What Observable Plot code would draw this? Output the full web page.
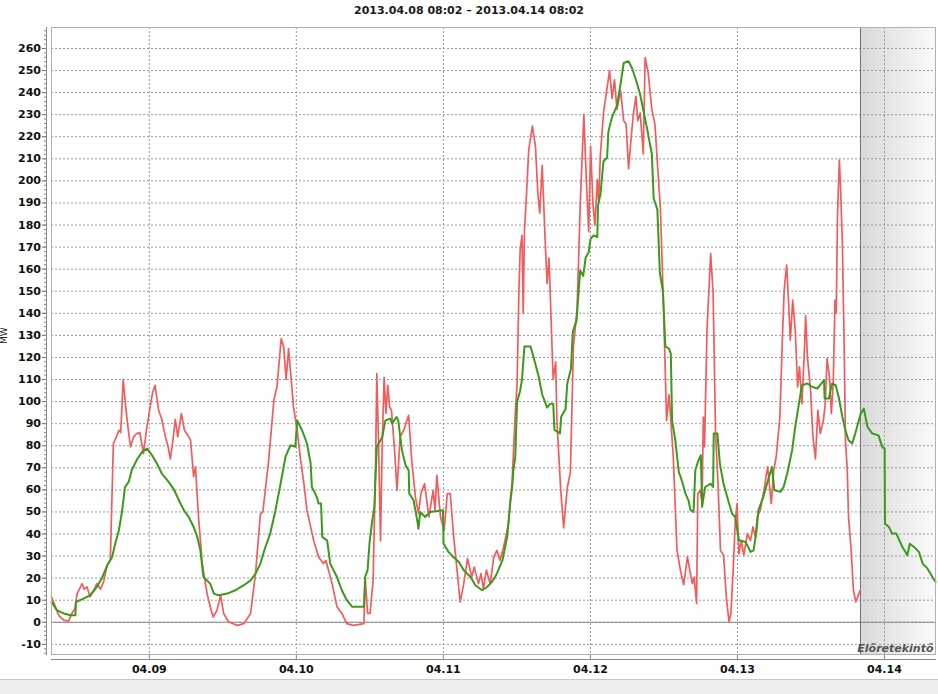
<!DOCTYPE html>
<html><head><meta charset="utf-8">
<script src="https://cdn.jsdelivr.net/npm/d3@7"></script>
<script src="https://cdn.jsdelivr.net/npm/@observablehq/plot@0.6"></script>
<style>
body{margin:0;background:#fff;font-family:"DejaVu Sans",sans-serif;}
#title{height:22px;line-height:22px;text-align:center;font-size:11px;font-weight:bold;color:#1a1a1a;}
#chart svg{display:block;}
#band{height:14px;background:#eeeeee;border-top:1px solid #c8c8c8;}
</style></head><body>
<div id="title">2013.04.08 08:02 – 2013.04.14 08:02</div>
<div id="chart"></div>
<div id="band"></div>
<script>
// Hours after 2013.04.08 08:02 (UTC-based clock) and MW values
const redHours = [0,0.5,1.2,2.0,2.8,3.3,3.8,4.2,5.0,5.3,5.8,6.3,6.9,7.4,8.0,8.5,9.1,9.6,10.1,10.6,11.0,11.3,11.7,12.1,12.5,12.9,13.4,13.9,14.4,14.8,15.0,15.5,16.1,16.5,16.9,17.5,18.0,18.6,19.0,19.4,19.8,20.2,20.6,21.2,21.7,22.2,22.7,23.2,23.5,24.0,24.6,25.4,26.0,26.4,27.0,27.6,28.1,28.9,30.3,31.4,32.5,33.3,34.1,34.5,35.4,36.3,36.8,37.5,37.9,38.3,38.7,39.5,40.1,40.6,41.2,41.7,42.3,42.8,43.6,44.4,44.8,45.8,46.6,47.4,48.2,49.3,51.0,51.2,51.6,52.0,52.5,52.9,53.1,53.4,53.7,54.0,54.3,54.6,54.9,55.2,55.5,56.0,56.4,56.9,57.5,58.3,58.8,59.4,59.9,60.3,60.9,61.6,62.3,62.6,62.9,63.5,64.1,64.6,65.1,65.6,66.2,66.7,67.3,67.9,68.6,69.0,69.7,70.1,70.5,71.0,71.6,72.2,72.7,73.2,73.8,74.6,75.2,75.7,76.0,76.3,76.5,76.8,77.0,77.2,77.5,77.9,78.5,79.0,79.4,79.7,80.1,80.6,80.9,81.2,81.4,81.7,81.9,82.3,82.5,83.1,83.6,84.2,84.7,85.2,85.8,86.3,86.9,87.3,87.7,88.0,88.4,88.7,89.1,89.3,89.6,90.1,90.7,91.1,91.5,91.9,92.3,92.9,93.4,93.8,94.2,94.6,95.0,95.4,95.7,96.1,96.6,96.9,97.4,98.0,98.5,99.4,99.9,100.4,100.8,101.1,101.5,102.1,102.7,103.2,103.8,104.3,104.6,104.9,105.3,105.5,105.9,106.2,106.4,106.6,107.0,107.6,108.0,108.4,108.8,109.2,109.7,110.2,110.6,110.9,111.3,111.6,111.9,112.2,112.6,113.0,113.6,114.1,114.5,114.9,115.2,115.7,116.3,116.9,117.5,117.9,118.3,118.9,119.3,119.6,120.0,120.3,120.6,121.0,121.4,121.8,122.1,122.5,122.9,123.1,123.4,123.9,124.3,124.7,125.1,125.5,126.0,126.3,126.6,127.0,127.3,127.6,127.9,128.1,128.3,128.6,128.8,129.1,129.4,129.6,129.9,130.1,130.5,130.9,131.3,131.7,132.0];
const redMW = [11.5,8,3,1,0.5,4,6,13,17.5,15,16,11.5,14.5,17.5,15,18.3,26,28,81,84,87,86,110,98,88,79.5,84,85.5,86,80,76.4,87,97.6,104,107.4,96,92,84,80,74,82,92,84,94.6,87,85,82.5,66,70.4,47.7,26.6,13,6,2.4,5.4,12.2,4,0.2,-1.4,-0.6,4,22,49,50,72,100.6,106.6,128.5,124.8,110,124,97.6,87,75,62.8,50.8,43.2,37,29.6,26.6,28,17.5,7,4,-0.6,-1.4,-0.6,20.5,4,4,19,72,112.7,79.5,37,82.5,111,94.6,107.4,97.6,96,78,59.8,84,87,93.8,73.4,56.8,49.2,58.3,62.8,47.7,59.8,50.8,66.6,47.7,41.7,58.3,58.3,40.2,23.6,9.2,17.5,28.9,20.5,25,17.5,22,15.3,23.6,17.5,29.6,32.6,28,34,44.7,64.4,94.6,108,150,168.6,175.3,140,177,192,214,224.8,215.6,193.8,185.4,207,172,153.5,165,150,125,110,118,91.4,61,42.8,61,68,125,141.8,188.8,230,200.5,177,215.6,188.8,180,200.5,190.4,212,230.7,242.4,250,237.4,245.8,232.4,240.8,227.3,225.7,205.5,219,230.7,238.3,227.3,230.7,212.2,255.9,249,232.4,225.7,187,143.5,91.4,103,91.4,74.7,32.7,23,17,29.6,22,17.5,20.5,8.5,58.3,59.8,53.8,93,79.5,132.3,167,149,85.5,62.8,32.6,30.4,10,0.2,4,25,44.7,53.8,31,37,30.4,40.2,37,43.2,38.7,47.7,50.8,59.8,70.4,53.8,68.9,75,93,127.8,150.5,161.8,146,127.8,146,132.3,106.6,115.7,99,123.2,139,120,105,84,74,96,85.5,91.5,99,119.5,111,94.6,108,146,140,183.7,209.4,197.3,171.6,123.3,82.5,68.9,47.7,34,14.5,9.2,12.2,14.5];
const greenHours = [0,0.9,2.0,3.1,3.9,4.0,5.2,6.3,7.4,8.2,9.1,9.9,10.4,11.0,11.5,12.0,12.6,13.1,14.0,14.8,15.6,16.4,17.2,18.0,18.9,19.9,20.8,21.6,22.4,23.2,23.8,24.3,24.8,25.9,26.5,27.3,28.7,30.0,31.4,32.5,33.3,34.1,34.9,35.7,36.5,37.4,38.2,39.0,39.8,40.1,40.9,41.7,42.3,42.5,43.3,43.6,44.0,44.2,45.0,45.5,46.6,47.4,48.2,49.1,51.0,51.2,51.6,51.9,52.3,52.7,53.1,54.0,54.5,55.3,55.6,56.3,56.6,57.2,57.8,58.3,58.4,59.1,59.7,59.9,60.2,61.0,61.8,63.9,64.0,64.8,65.6,66.5,67.3,68.4,69.2,70.3,71.1,71.9,72.7,73.6,74.4,74.9,75.2,75.4,75.7,76.0,76.5,76.8,77.2,78.2,78.7,79.5,80.1,80.9,81.4,81.9,82.1,83.0,83.2,83.9,84.2,84.8,85.1,85.7,86.1,86.3,86.8,87.2,87.7,88.0,88.5,89.1,89.2,89.6,90.1,90.7,90.9,91.5,92.3,92.9,93.4,94.2,94.8,95.6,96.1,96.7,97.2,98.0,98.3,98.9,99.3,99.8,100.2,100.8,101.1,101.3,101.8,102.4,102.7,103.5,104.0,104.3,104.8,105.1,105.6,106.0,106.2,106.7,107.6,108.0,108.1,108.7,109.1,109.7,110.6,111.1,111.6,112.2,113.3,114.1,114.6,115.1,115.4,116.2,116.8,117.6,118.0,119.0,119.5,120.1,120.9,121.4,122.0,122.5,123.4,124.2,125.0,126.1,126.2,126.9,127.4,128.0,128.5,129.1,129.6,130.1,130.7,131.2,132.1,132.6,133.2,134.0,135.0,135.6,136.0,136.05,136.7,137.2,137.9,138.9,139.7,140.1,140.8,141.6,142.2,143.0,143.8,144.3];
const greenMW = [9.2,5.4,4,3.2,3.2,9.2,10.7,12.2,16,19.8,25.8,29.6,35.6,41.7,50,61.3,63.6,68.9,74,77.2,78.7,75.7,72,67.4,64.4,60.6,55.3,50.8,47.7,43.2,38.7,32.6,20.5,17.5,13,12.2,13,14.5,16.8,19,22,26.6,34,40.2,50,62.8,75,80.2,79.5,91.5,87,81,72,61.3,56.8,53.8,53.8,38.7,37,26.6,20.5,14.5,10,7,7,20.5,23.6,35.6,44.7,52.3,79.5,84,91.5,92.3,90,93,91.5,78,71.1,68.9,58.3,55.3,46.2,42.4,50,47.7,50,50.8,35.6,31.9,29.6,27.3,23.6,20.5,16.8,14.5,16,18.3,22,28,39,55,61.2,69,74.7,99.8,104.9,110,125,125,120,111.6,103.2,97.3,99,99,87.2,85.6,93.1,96.5,108.2,115,131.7,136.7,151.8,159.4,157,165.3,167.8,173.7,175.3,174.5,188.8,193.8,208.9,210.6,222.3,229,234,244,253.4,254.2,250.8,244,239,230.7,224,212,192,187,158.6,150,125,124,121.6,91.4,83,68,65.9,58.3,55,50.8,50,68.9,73.4,75.7,52.3,61.3,62.8,61.3,85.5,85.5,71.9,62.8,53.8,49.2,47.7,37.2,36.4,31.9,32.6,41.7,50.8,56.8,62.8,70.4,59.8,59.1,61.3,67.4,78,88.5,99,107.4,108.2,106.6,105.9,109.7,101.4,101.4,108.2,107.4,102.1,93,87,82.5,81,85.5,94.6,96.8,88.5,85.5,84.7,79.5,78.7,44.7,43.2,40.2,40.2,34.1,30.4,35.6,34.1,31.9,26.6,24.3,20.5,18.3];
const forecastStartHour = 132.05;
const endHour = 144.3;
const dayLabels = [9,10,11,12,13,14];
const yMajor = d3.range(-10, 261, 10);
const yMinor = d3.range(-14, 269, 2);

const t0 = Date.UTC(2013, 3, 8, 8, 2);
const toDate = h => new Date(t0 + h * 3600000);
const red = redHours.map((h, i) => ({t: toDate(h), v: redMW[i]}));
const green = greenHours.map((h, i) => ({t: toDate(h), v: greenMW[i]}));
const days = dayLabels.map(d => new Date(Date.UTC(2013, 3, d)));
const forecast = [{start: toDate(forecastStartHour), end: toDate(endHour)}];

const plot = Plot.plot({
  width: 938, height: 657,
  marginLeft: 51, marginRight: 3, marginTop: 5, marginBottom: 25,
  style: {fontFamily: "DejaVu Sans", fontSize: "11px", fontWeight: "bold", color: "#111", background: "transparent", overflow: "visible"},
  x: {type: "utc", domain: [toDate(0), toDate(endHour)]},
  y: {domain: [-14.6, 269.5]},
  marks: [
    Plot.rect(forecast, {x1: "start", x2: "end", fill: "url(#fgrad)"}),
    Plot.gridY(yMajor, {stroke: "#9a9a9a", strokeOpacity: 1, strokeDasharray: "2,2"}),
    Plot.gridX(days, {stroke: "#9a9a9a", strokeOpacity: 1, strokeDasharray: "2,2"}),
    Plot.ruleY([0], {stroke: "#8a8a8a"}),
    Plot.ruleX(forecast, {x: "start", stroke: "#707070"}),
    Plot.line(red, {x: "t", y: "v", stroke: "#f25c5c", strokeWidth: 1.7}),
    Plot.line(green, {x: "t", y: "v", stroke: "#3a9a1a", strokeWidth: 2}),
    Plot.frame({stroke: "#b0b0b0"}),
    Plot.frame({anchor: "left", dx: -5, stroke: "#8a8a8a"}),
    Plot.frame({anchor: "bottom", dy: 5, stroke: "#8a8a8a"}),
    Plot.axisY(yMajor, {tickSize: 4, dx: -5, tickPadding: 1.5, tickFormat: d => String(d), label: null, stroke: "#666"}),
    Plot.axisY(yMinor, {tickSize: 2, dx: -5, tickFormat: () => "", label: null, stroke: "#888"}),
    Plot.axisX(days, {tickSize: 5, tickPadding: 6, tickFormat: d3.utcFormat("%m.%d"), label: null, stroke: "#888"}),
    Plot.text(["MW"], {frameAnchor: "left", dx: -47, dy: 3, rotate: -90, fontSize: 9, fontWeight: "normal", fill: "#222"}),
    Plot.text(["Előretekintő"], {frameAnchor: "bottom-right", dx: -2, dy: -3, fontStyle: "italic", fontWeight: "bold", fontSize: 11, fill: "#555"})
  ]
});

const svg = d3.select(plot);
const grad = svg.insert("defs", ":first-child").append("linearGradient")
  .attr("id", "fgrad").attr("x1", "0").attr("x2", "1").attr("y1", "0").attr("y2", "0");
grad.append("stop").attr("offset", "0").attr("stop-color", "#d9d9d9");
grad.append("stop").attr("offset", "1").attr("stop-color", "#fafafa");
document.getElementById("chart").appendChild(plot);
</script></body></html>
